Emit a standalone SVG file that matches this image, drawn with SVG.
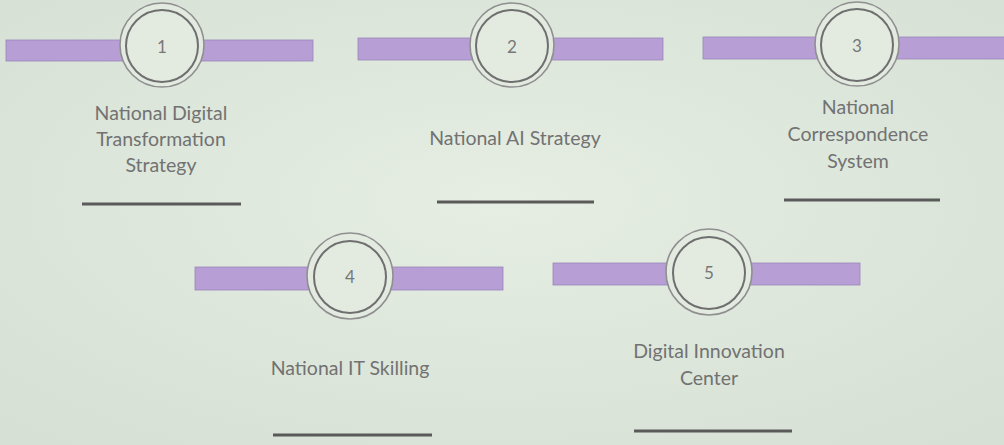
<svg xmlns="http://www.w3.org/2000/svg" width="1004" height="445" viewBox="0 0 1004 445">
<defs>
<radialGradient id="bg" cx="50%" cy="45%" r="70%">
<stop offset="0" stop-color="#e6eee4"/>
<stop offset="1" stop-color="#d6e0d4"/>
</radialGradient>
<style>
.bar{fill:#b79fd6;stroke:#9a86b8;stroke-width:0.8}
.outer{fill:#e3ebe1;stroke:#8f8f8f;stroke-width:1.6}
.inner{fill:#e3ebe1;stroke:#6f6f6f;stroke-width:2}
.num{font-family:Lato,"Open Sans",sans-serif;font-size:17px;fill:#777;text-anchor:middle}
.lbl{font-family:Lato,"Open Sans",sans-serif;font-size:19.5px;fill:#727272;text-anchor:middle}
.ul{stroke:#5a5a5a;stroke-width:3}
</style>
</defs>
<rect width="1004" height="445" fill="url(#bg)"/>
<g id="connectors">
<rect class="bar" x="6" y="40" width="307" height="21"/>
<rect class="bar" x="358" y="38" width="305" height="22"/>
<rect class="bar" x="703" y="37" width="305" height="22"/>
<rect class="bar" x="195" y="267" width="308" height="23"/>
<rect class="bar" x="553" y="263" width="307" height="22"/>
</g>
<g id="node1">
<circle class="outer" cx="162" cy="45" r="42"/>
<circle class="inner" cx="162" cy="46" r="36"/>
<text class="num" x="162" y="53">1</text>
<text class="lbl" x="161" y="120">National Digital</text>
<text class="lbl" x="161" y="146">Transformation</text>
<text class="lbl" x="161" y="172">Strategy</text>
<line class="ul" x1="82" y1="204" x2="241" y2="204"/>
</g>
<g id="node2">
<circle class="outer" cx="512" cy="45" r="42"/>
<circle class="inner" cx="512" cy="46" r="36"/>
<text class="num" x="512" y="53">2</text>
<text class="lbl" x="515" y="145">National AI Strategy</text>
<line class="ul" x1="437" y1="202" x2="594" y2="202"/>
</g>
<g id="node3">
<circle class="outer" cx="857" cy="44" r="42"/>
<circle class="inner" cx="857" cy="45" r="36"/>
<text class="num" x="857" y="52">3</text>
<text class="lbl" x="858" y="114">National</text>
<text class="lbl" x="858" y="141">Correspondence</text>
<text class="lbl" x="858" y="168">System</text>
<line class="ul" x1="784" y1="200" x2="940" y2="200"/>
</g>
<g id="node4">
<circle class="outer" cx="350" cy="276" r="43"/>
<circle class="inner" cx="350" cy="277" r="36"/>
<text class="num" x="350" y="283">4</text>
<text class="lbl" x="350" y="375">National IT Skilling</text>
<line class="ul" x1="273" y1="435" x2="432" y2="435"/>
</g>
<g id="node5">
<circle class="outer" cx="709" cy="272" r="43"/>
<circle class="inner" cx="709" cy="273" r="36"/>
<text class="num" x="709" y="279">5</text>
<text class="lbl" x="709" y="358">Digital Innovation</text>
<text class="lbl" x="709" y="385">Center</text>
<line class="ul" x1="634" y1="431" x2="792" y2="431"/>
</g>
</svg>
